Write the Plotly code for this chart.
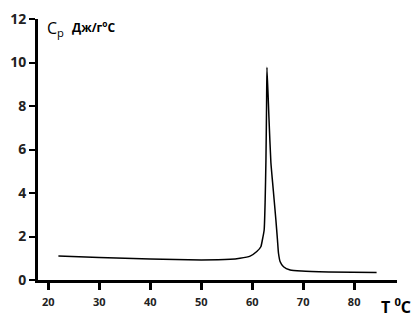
import plotly.graph_objects as go

temperature = [22, 30, 40, 50, 55.7, 57.6, 59.6, 60.9, 61.7, 62.0, 62.35, 62.55, 62.7, 62.82, 62.9,
               63.3, 63.67, 64.0, 64.31, 64.65, 64.96, 65.16, 65.49, 66.14, 67.45, 69.7, 75, 84.4]
cp = [1.10, 1.03, 0.97, 0.92, 0.95, 1.0, 1.10, 1.31, 1.53, 1.84, 2.3, 3.7, 5.5, 8.0, 9.78,
      7.4, 5.4, 4.5, 3.68, 2.76, 1.84, 1.23, 0.84, 0.61, 0.46, 0.41, 0.37, 0.34]

x_ticks = [20, 30, 40, 50, 60, 70, 80]
y_ticks = [0, 2, 4, 6, 8, 10, 12]

fig = go.Figure()
fig.add_trace(go.Scatter(x=temperature, y=cp, mode="lines",
                         line=dict(color="black", width=1.5, shape="spline", smoothing=0.5),
                         hoverinfo="skip"))

fig.update_layout(
    width=419, height=323,
    margin=dict(l=38, r=22, t=19, b=43),
    paper_bgcolor="white", plot_bgcolor="white",
    showlegend=False,
    font=dict(family="Open Sans", color="black"),
    xaxis=dict(range=[18, 88.4], tickvals=x_ticks, ticks="outside", ticklen=7, tickwidth=3,
               tickcolor="black", showline=True, linecolor="black", linewidth=2.5,
               showgrid=False, zeroline=False, automargin=False,
               tickfont=dict(family="Open Sans", size=11, color="#222", weight="bold"),
               ticklabelstandoff=3),
    yaxis=dict(range=[0, 12], tickvals=y_ticks, ticks="outside", ticklen=6, tickwidth=2,
               tickcolor="black", showline=True, linecolor="black", linewidth=3,
               showgrid=False, zeroline=False, automargin=False,
               tickfont=dict(family="Open Sans", size=14, color="#222", weight="bold")),
)

fig.add_annotation(xref="paper", yref="paper", x=0.02, y=0.962, xanchor="left", yanchor="middle",
                   text="C<sub>p</sub>", showarrow=False,
                   font=dict(family="Open Sans", size=16, color="black"))
fig.add_annotation(xref="paper", yref="paper", x=0.089, y=0.97, xanchor="left", yanchor="middle",
                   text="<b>Дж/г<sup>o</sup>C</b>", showarrow=False,
                   font=dict(family="Open Sans", size=12, color="black"))
fig.add_annotation(xref="paper", yref="paper", x=0.95, y=-0.10, xanchor="left", yanchor="middle",
                   text="<b>T <sup>0</sup>C</b>", showarrow=False,
                   font=dict(family="Open Sans", size=16, color="black"))

fig.write_html("out.html", config={"displayModeBar": False},
               post_script="document.body.style.margin='0';document.body.style.overflow='hidden';")
